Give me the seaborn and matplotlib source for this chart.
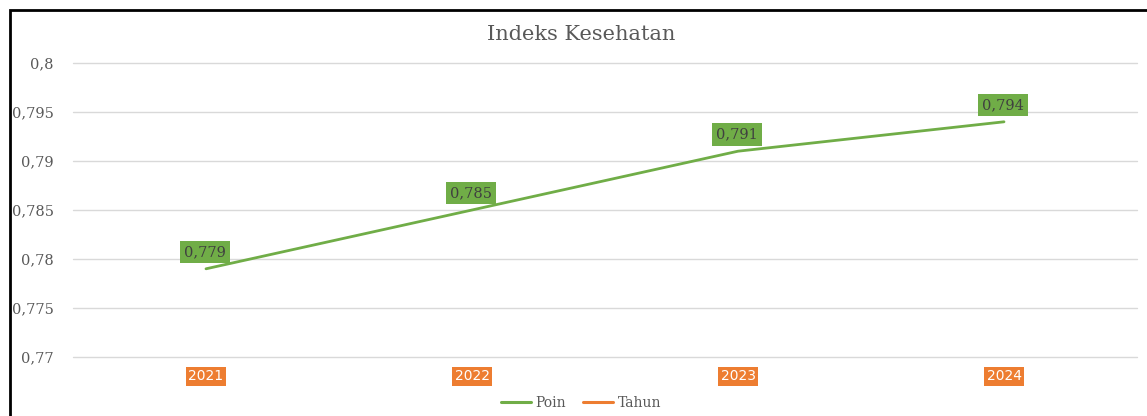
import matplotlib
matplotlib.use('Agg')
import matplotlib.pyplot as plt
import seaborn as sns
import pandas as pd
from matplotlib.lines import Line2D
from matplotlib.patches import Rectangle
from matplotlib.ticker import FuncFormatter

# data
tahun = ['2021', '2022', '2023', '2024']
poin = [0.779, 0.785, 0.791, 0.794]

df = pd.DataFrame({'tahun': tahun, 'poin': poin})

sns.set_style('white')
plt.rcParams['font.family'] = ['DejaVu Serif']

fig = plt.figure(figsize=(11.47, 4.16), dpi=100)
ax = fig.add_axes([73 / 1147, 1 - 357 / 416, (1137 - 73) / 1147, (357 - 63) / 416])

x = list(range(len(tahun)))
sns.lineplot(x=x, y=df['poin'], ax=ax, color='#70ad47', linewidth=2.0)

ax.set_xlim(-0.5, len(tahun) - 0.5)
ax.set_ylim(0.77, 0.8)
ax.set_yticks([0.77 + 0.005 * i for i in range(7)])
ax.yaxis.set_major_formatter(FuncFormatter(lambda v, p: ('%g' % round(v, 3)).replace('.', ',')))
ax.grid(axis='y', color='#d9d9d9', linewidth=1)
for gl in ax.get_ygridlines():
    gl.set_clip_on(False)
ax.set_axisbelow(True)
for s in ax.spines.values():
    s.set_visible(False)
ax.tick_params(axis='y', length=0, labelsize=10.5, labelcolor='#595959', pad=14)
ax.set_xticks(x)
ax.set_xticklabels([])
ax.tick_params(axis='x', length=0)
ax.set_xlabel('')
ax.set_ylabel('')

# data labels
for xi, v in zip(x, poin):
    ax.annotate(('%g' % v).replace('.', ','), (xi, v), xytext=(-1, 12), textcoords='offset points',
                ha='center', va='center', fontsize=10.5, color='#404040',
                bbox=dict(boxstyle='square,pad=0.28', fc='#70ad47', ec='none'))

# category labels
for xi, t in zip(x, tahun):
    ax.annotate(t, (xi, 0.77), xytext=(0, -14), textcoords='offset points',
                ha='center', va='center', fontsize=10, color='white',
                family='DejaVu Sans',
                bbox=dict(boxstyle='square,pad=0.15', fc='#ed7d31', ec='none'))

fig.text(581 / 1147, 1 - 35 / 416, 'Indeks Kesehatan', ha='center', va='center',
         fontsize=15, color='#595959')

handles = [Line2D([], [], color='#70ad47', lw=2.2), Line2D([], [], color='#ed7d31', lw=2.2)]
fig.legend(handles, ['Poin', 'Tahun'], loc='center', bbox_to_anchor=(581 / 1147, 1 - 403 / 416),
           ncol=2, frameon=False, fontsize=10, labelcolor='#595959', handlelength=2.2,
           handletextpad=0.3, columnspacing=1.2)

# outer frame
fig.patches.append(Rectangle((10 / 1147, -0.1), 1.2, 1.1 - 10 / 416, transform=fig.transFigure,
                             fill=False, ec='black', lw=2, clip_on=False))

fig.savefig('out.png', dpi=100)
